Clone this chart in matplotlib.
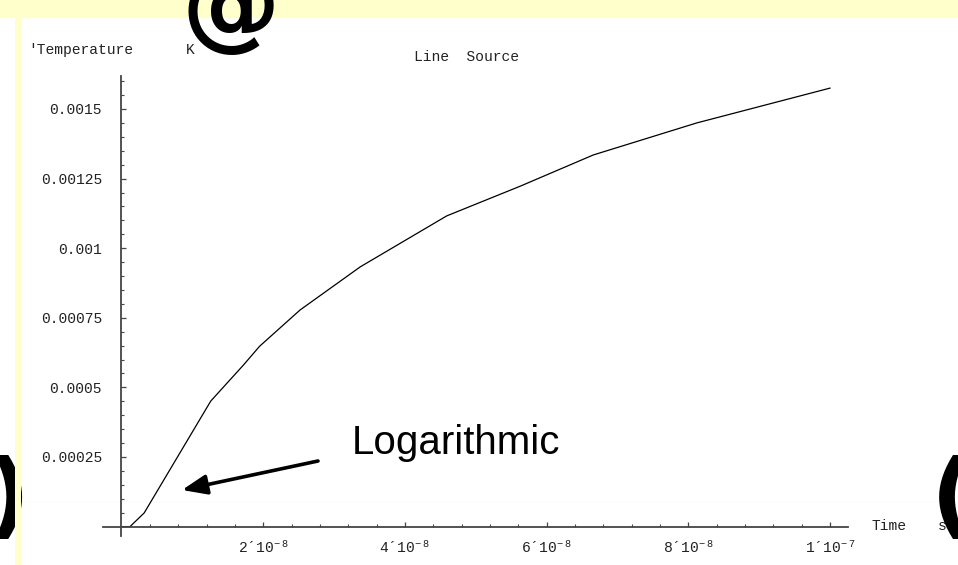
import matplotlib
matplotlib.use("Agg")
import matplotlib.pyplot as plt
from matplotlib.patches import Rectangle
from matplotlib.lines import Line2D
from matplotlib.ticker import FixedLocator, FixedFormatter

plt.rcParams['font.family'] = ['Liberation Mono', 'DejaVu Sans']
plt.rcParams['mathtext.fontset'] = 'custom'
plt.rcParams['mathtext.rm'] = 'Liberation Mono'
plt.rcParams['mathtext.it'] = 'Liberation Mono'
plt.rcParams['mathtext.default'] = 'rm'

# ---- data ----
time_s = [0.0, 0.12e-8, 0.32e-8, 1.26e-8, 1.72e-8, 1.95e-8, 2.52e-8, 3.37e-8,
          4.59e-8, 5.63e-8, 6.66e-8, 8.12e-8, 10.0e-8]
temp_K = [0.0, 0.0, 0.000049, 0.000451, 0.000580, 0.000648, 0.000778, 0.000933,
          0.001116, 0.001223, 0.001335, 0.001450, 0.001575]

x_major = [2e-8, 4e-8, 6e-8, 8e-8, 1e-7]
x_labels = ["2´10$^{-\\ 8}$", "4´10$^{-\\ 8}$", "6´10$^{-\\ 8}$", "8´10$^{-\\ 8}$", "1´10$^{-\\ 7}$"]
y_major = [0.00025, 0.0005, 0.00075, 0.001, 0.00125, 0.0015]
y_labels = ["0.00025", "0.0005", "0.00075", "0.001", "0.00125", "0.0015"]
x_minor = [0.4e-8, 0.8e-8, 1.2e-8, 1.6e-8, 2.4e-8, 2.8e-8, 3.2e-8, 3.6e-8,
           4.4e-8, 4.8e-8, 5.2e-8, 5.6e-8, 6.4e-8, 6.8e-8, 7.2e-8, 7.6e-8,
           8.4e-8, 8.8e-8, 9.2e-8, 9.6e-8]
y_minor = [0.00005, 0.0001, 0.00015, 0.0002, 0.0003, 0.00035, 0.0004, 0.00045,
           0.00055, 0.0006, 0.00065, 0.0007, 0.0008, 0.00085, 0.0009, 0.00095,
           0.00105, 0.0011, 0.00115, 0.0012, 0.0013, 0.00135, 0.0014, 0.00145,
           0.00155, 0.0016]

title = "Line  Source"
ylab = "'Temperature"
xlab = "Time"
note = "Logarithmic"

W, H = 958, 565
fig = plt.figure(figsize=(W / 100, H / 100), dpi=100)
fig.patch.set_facecolor('white')

def fx(px):
    return px / W

def fy(py):
    return 1 - py / H

# pixel layout of the axes (origin pixel and scale)
X0, XS = 121.5, 70.85 / 1e-8
Y0, YS = 526.6, 69.6 / 0.00025

ax = fig.add_axes([0, 0, 1, 1])
ax.patch.set_visible(False)
ax.set_xlim(-X0 / XS, (W - X0) / XS)
ax.set_ylim(-(H - Y0) / YS, Y0 / YS)

for s in ['top', 'right']:
    ax.spines[s].set_visible(False)
ax.spines['left'].set_position(('data', 0))
ax.spines['bottom'].set_position(('data', 0))
ax.spines['bottom'].set_bounds(-0.26e-8, 10.25e-8)
ax.spines['left'].set_bounds(-0.000032, 0.00162)
for s in ['left', 'bottom']:
    ax.spines[s].set_color('#444444')
    ax.spines[s].set_linewidth(1.3)

ax.xaxis.set_major_locator(FixedLocator(x_major))
ax.xaxis.set_major_formatter(FixedFormatter(x_labels))
ax.xaxis.set_minor_locator(FixedLocator(x_minor))
ax.yaxis.set_major_locator(FixedLocator(y_major))
ax.yaxis.set_major_formatter(FixedFormatter(y_labels))
ax.yaxis.set_minor_locator(FixedLocator(y_minor))

ax.tick_params(axis='both', which='major', direction='in', length=3.6, width=0.9,
               color='#444444', labelsize=10.5, labelcolor='#222222')
ax.tick_params(axis='both', which='minor', direction='in', length=2.2, width=0.8,
               color='#444444')
ax.tick_params(axis='x', which='major', pad=9.5)
ax.tick_params(axis='y', which='major', pad=14)

ax.plot(time_s, temp_K, color='black', lw=0.9, solid_joinstyle='miter')

# texts
fig.text(fx(28), fy(50), ylab, ha='left', va='center', fontsize=10.5, color='#222222')
fig.text(fx(186), fy(50), "K", ha='left', va='center', fontsize=10.5, color='#222222')
fig.text(fx(467), fy(57), title, ha='center', va='center', fontsize=10.5, color='#222222')
fig.text(fx(871), fy(526), xlab, ha='left', va='center', fontsize=10.5, color='#222222')
fig.text(fx(938), fy(526), "s", ha='left', va='center', fontsize=10.5, color='#222222')
fig.text(fx(352), fy(443), note, ha='left', va='center', fontsize=29,
         family='Liberation Sans', color='black')

ax.annotate('', xy=(182, H - 490), xycoords='figure pixels',
            xytext=(318, H - 461), textcoords='figure pixels',
            arrowprops=dict(arrowstyle='-|>,head_length=0.75,head_width=0.3',
                            mutation_scale=20, lw=2.6, color='black',
                            shrinkA=0, shrinkB=0),
            annotation_clip=False)

# decorative background pieces
fig.patches.append(Rectangle((0, fy(18)), 1, 18 / H, transform=fig.transFigure,
                             facecolor='#FFFFCC', edgecolor='none', zorder=5))
fig.patches.append(Rectangle((fx(15), 0), 6 / W, 1, transform=fig.transFigure,
                             facecolor='#FFFFCC', edgecolor='none', zorder=5))
fig.lines.append(Line2D([fx(21), 1], [fy(501), fy(501)], transform=fig.transFigure,
                        color='#FFFFE0', lw=0.8, zorder=-1))

# stray symbol glyphs
fig.text(fx(182), fy(38), "@", ha='left', va='baseline', fontsize=71,
         family='DejaVu Sans', weight='bold', color='black', zorder=6)
fig.text(fx(-14), fy(527), ")", ha='left', va='baseline', fontsize=68,
         family='DejaVu Sans', weight='bold', color='black', zorder=4)
fig.text(fx(931), fy(527), "(", ha='left', va='baseline', fontsize=68,
         family='DejaVu Sans', weight='bold', color='black', zorder=6)

fig.savefig('out.png', dpi=100)
